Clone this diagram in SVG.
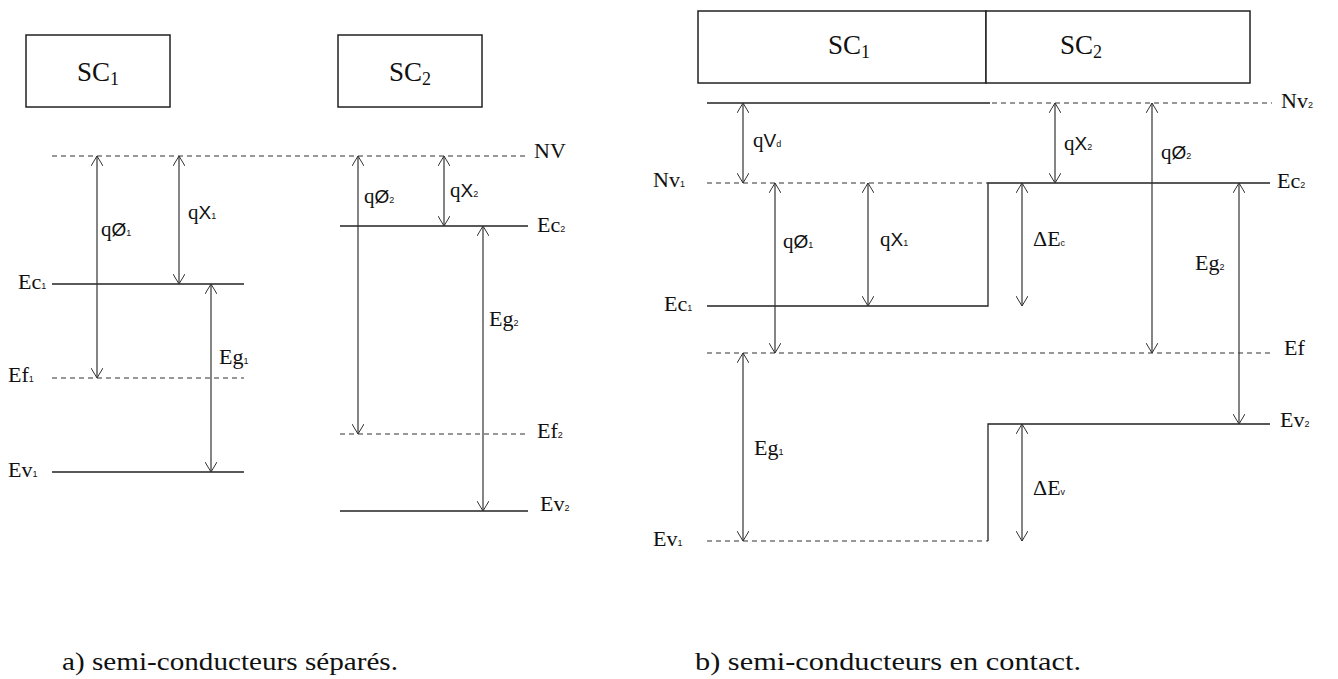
<svg xmlns="http://www.w3.org/2000/svg" width="1338" height="679" viewBox="0 0 1338 679">
<style>
.box{fill:#fff;stroke:#222;stroke-width:1.5}
.lv{stroke:#222;stroke-width:1.3;fill:none}
.dl{stroke:#333;stroke-width:1.2;stroke-dasharray:5,4;fill:none}
.ar{stroke:#333;stroke-width:1.2;fill:none;marker-start:url(#ah);marker-end:url(#ah)}
.t{font-family:'Liberation Serif','DejaVu Serif','Noto Serif',serif;font-size:22px;fill:#111}
.bt{font-family:'Liberation Serif','DejaVu Serif','Noto Serif',serif;font-size:27px;fill:#111}
.s{font-family:'Liberation Sans',Arial,sans-serif;font-size:19px;fill:#111}
.q{font-family:'Liberation Serif','DejaVu Serif','Noto Serif',serif;font-size:21px}
.sub{font-family:'Liberation Sans',Arial,sans-serif;font-size:9px}
.cap{font-family:'Liberation Serif','DejaVu Serif','Noto Serif',serif;font-size:25px;fill:#111}
</style>
<defs>
<marker id="ah" viewBox="0 0 10 12" refX="10" refY="6" markerWidth="10" markerHeight="12" markerUnits="userSpaceOnUse" orient="auto-start-reverse">
<path d="M0,0 L10,6 L0,12" fill="none" stroke="#333" stroke-width="1"/>
</marker>
</defs>

<g id="box-sc1-a">
<rect class="box" x="26" y="35" width="144" height="72"/>
<text class="bt" x="98" y="81" text-anchor="middle">SC<tspan font-size="18" dy="4">1</tspan></text>
</g>
<g id="box-sc2-a">
<rect class="box" x="338" y="35" width="144" height="72"/>
<text class="bt" x="410" y="81" text-anchor="middle">SC<tspan font-size="18" dy="4">2</tspan></text>
</g>

<g id="level-NV-a">
<line class="dl" x1="52" y1="156" x2="528" y2="156"/>
<text class="t" x="534" y="158">NV</text>
</g>
<g id="level-Ec1-a">
<line class="lv" x1="52" y1="284" x2="244" y2="284"/>
<text class="t" x="18" y="289">Ec<tspan class="sub">1</tspan></text>
</g>
<g id="level-Ef1-a">
<line class="dl" x1="52" y1="378" x2="244" y2="378"/>
<text class="t" x="8" y="382">Ef<tspan class="sub">1</tspan></text>
</g>
<g id="level-Ev1-a">
<line class="lv" x1="52" y1="472" x2="244" y2="472"/>
<text class="t" x="8" y="477">Ev<tspan class="sub">1</tspan></text>
</g>
<g id="level-Ec2-a">
<line class="lv" x1="340" y1="226" x2="528" y2="226"/>
<text class="t" x="537" y="232">Ec<tspan class="sub">2</tspan></text>
</g>
<g id="level-Ef2-a">
<line class="dl" x1="340" y1="434" x2="528" y2="434"/>
<text class="t" x="537" y="438">Ef<tspan class="sub">2</tspan></text>
</g>
<g id="level-Ev2-a">
<line class="lv" x1="340" y1="511" x2="528" y2="511"/>
<text class="t" x="540" y="511">Ev<tspan class="sub">2</tspan></text>
</g>

<g id="box-sc1-b">
<rect class="box" x="698" y="11" width="288" height="72"/>
<text class="bt" x="849" y="54" text-anchor="middle">SC<tspan font-size="18" dy="4">1</tspan></text>
</g>
<g id="box-sc2-b">
<rect class="box" x="986" y="11" width="264" height="72"/>
<text class="bt" x="1081" y="54" text-anchor="middle">SC<tspan font-size="18" dy="4">2</tspan></text>
</g>

<g id="level-Nv2-b">
<line class="lv" x1="707" y1="103" x2="990" y2="103"/>
<line class="dl" x1="992" y1="103" x2="1272" y2="103"/>
<text class="t" x="1281" y="108">Nv<tspan class="sub">2</tspan></text>
</g>
<g id="level-Nv1-b">
<line class="dl" x1="707" y1="183" x2="988" y2="183"/>
<text class="t" x="653" y="187">Nv<tspan class="sub">1</tspan></text>
</g>
<g id="level-Ec-b">
<path class="lv" d="M707,306 H988 V183 H1270"/>
<text class="t" x="664" y="311">Ec<tspan class="sub">1</tspan></text>
<text class="t" x="1277" y="188">Ec<tspan class="sub">2</tspan></text>
</g>
<g id="level-Ef-b">
<line class="dl" x1="707" y1="353" x2="1272" y2="353"/>
<text class="t" x="1284" y="355">Ef</text>
</g>
<g id="level-Ev-b">
<line class="dl" x1="707" y1="541" x2="988" y2="541"/>
<path class="lv" d="M988,541 V424 H1270"/>
<text class="t" x="653" y="546">Ev<tspan class="sub">1</tspan></text>
<text class="t" x="1280" y="427">Ev<tspan class="sub">2</tspan></text>
</g>

<g id="connectors">
<line class="ar" x1="97" y1="156" x2="97" y2="378"/>
<line class="ar" x1="179" y1="156" x2="179" y2="284"/>
<line class="ar" x1="211" y1="284" x2="211" y2="472"/>
<line class="ar" x1="358" y1="156" x2="358" y2="434"/>
<line class="ar" x1="444" y1="156" x2="444" y2="226"/>
<line class="ar" x1="483" y1="226" x2="483" y2="511"/>
<line class="ar" x1="743" y1="103" x2="743" y2="183"/>
<line class="ar" x1="775" y1="183" x2="775" y2="353"/>
<line class="ar" x1="868" y1="183" x2="868" y2="306"/>
<line class="ar" x1="743" y1="353" x2="743" y2="541"/>
<line class="ar" x1="1022" y1="183" x2="1022" y2="306"/>
<line class="ar" x1="1022" y1="424" x2="1022" y2="541"/>
<line class="ar" x1="1055" y1="103" x2="1055" y2="183"/>
<line class="ar" x1="1152" y1="103" x2="1152" y2="353"/>
<line class="ar" x1="1239" y1="183" x2="1239" y2="424"/>
</g>

<g id="labels">
<text class="s" x="101" y="236"><tspan class="q">q</tspan>Ø<tspan class="sub">1</tspan></text>
<text class="s" x="188" y="219"><tspan class="q">q</tspan>X<tspan class="sub">1</tspan></text>
<text class="t" x="219" y="364">Eg<tspan class="sub">1</tspan></text>
<text class="s" x="364" y="203"><tspan class="q">q</tspan>Ø<tspan class="sub">2</tspan></text>
<text class="s" x="450" y="197"><tspan class="q">q</tspan>X<tspan class="sub">2</tspan></text>
<text class="t" x="489" y="326">Eg<tspan class="sub">2</tspan></text>
<text class="s" x="753" y="147"><tspan class="q">q</tspan>V<tspan class="sub">d</tspan></text>
<text class="s" x="783" y="248"><tspan class="q">q</tspan>Ø<tspan class="sub">1</tspan></text>
<text class="s" x="880" y="246"><tspan class="q">q</tspan>X<tspan class="sub">1</tspan></text>
<text class="t" x="754" y="455">Eg<tspan class="sub">1</tspan></text>
<text class="t" x="1033" y="246">ΔE<tspan class="sub">c</tspan></text>
<text class="t" x="1033" y="495">ΔE<tspan class="sub">v</tspan></text>
<text class="s" x="1064" y="150"><tspan class="q">q</tspan>X<tspan class="sub">2</tspan></text>
<text class="s" x="1161" y="159"><tspan class="q">q</tspan>Ø<tspan class="sub">2</tspan></text>
<text class="t" x="1195" y="270">Eg<tspan class="sub">2</tspan></text>
</g>

<g id="captions">
<text class="cap" x="62" y="670" textLength="336" lengthAdjust="spacingAndGlyphs">a) semi-conducteurs séparés.</text>
<text class="cap" x="695" y="670" textLength="386" lengthAdjust="spacingAndGlyphs">b) semi-conducteurs en contact.</text>
</g>
</svg>
